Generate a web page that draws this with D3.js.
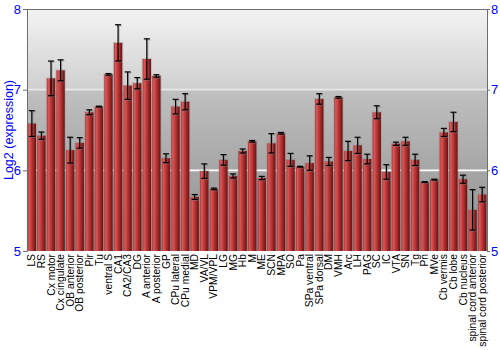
<!DOCTYPE html>
<html>
<head>
<meta charset="utf-8">
<script src="https://cdn.jsdelivr.net/npm/d3@7"></script>
<style>
  html, body { margin: 0; padding: 0; background: #fff; }
  svg { display: block; }
</style>
</head>
<body>
<svg id="chart"></svg>
<script>
const regions = ['LS', 'RS', 'Cx motor', 'Cx cingulate', 'OB anterior', 'OB posterior', 'Pir', 'Tu',
  'ventral S', 'CA1', 'CA2/CA3', 'DG', 'A anterior', 'A posterior', 'GP', 'CPu lateral', 'CPu medial',
  'MD', 'VA/VL', 'VPM/VPL', 'LG', 'MG', 'Hb', 'M', 'ME', 'SCN', 'MPA', 'SO', 'Pa', 'SPa ventral',
  'SPa dorsal', 'DM', 'VMH', 'Arc', 'LH', 'PAG', 'SC', 'IC', 'VTA', 'SN', 'Tg', 'Pn', 'MVe',
  'Cb vermis', 'Cb lobe', 'Cb nucleus', 'spinal cord anterior', 'spinal cord posterior'];

const expression = [6.58, 6.43, 7.14, 7.24, 6.25, 6.34, 6.72, 6.79,
  7.19, 7.58, 7.05, 7.08, 7.38, 7.17, 6.15, 6.79, 6.85,
  5.67, 5.99, 5.77, 6.13, 5.93, 6.24, 6.36, 5.905, 6.335, 6.46, 6.13, 6.045, 6.09,
  6.885, 6.11, 6.905, 6.24, 6.31, 6.14, 6.72, 5.98, 6.33, 6.36, 6.13, 5.855, 5.885,
  6.47, 6.6, 5.89, 5.51, 5.7];

const errors = [0.16, 0.045, 0.215, 0.13, 0.16, 0.065, 0.03, 0.005,
  0.01, 0.225, 0.17, 0.07, 0.25, 0.015, 0.055, 0.09, 0.1,
  0.03, 0.09, 0.01, 0.065, 0.025, 0.025, 0.01, 0.02, 0.12, 0.01, 0.08, 0.005, 0.09,
  0.065, 0.05, 0.01, 0.12, 0.1, 0.06, 0.08, 0.09, 0.02, 0.05, 0.07, 0.005, 0.005,
  0.05, 0.12, 0.05, 0.25, 0.09];

const yTicks = [5, 6, 7, 8];

const width = 500;
const height = 350;
const plotLeft = 27;
const plotRight = 487;
const plotTop = 9;
const plotBottom = 251;

const data = regions.map((name, i) => ({ name, value: expression[i], err: errors[i] }));

const svg = d3.select('#chart').attr('width', width).attr('height', height);

const x = d3.scaleBand().domain(regions).range([plotLeft, plotRight]).paddingInner(0.13).paddingOuter(0.07);
const y = d3.scaleLinear().domain([5, 8]).range([plotBottom, plotTop]);

const defs = svg.append('defs');

defs.append('linearGradient')
  .attr('id', 'bg-grad')
  .attr('x1', '0%').attr('y1', '0%').attr('x2', '0%').attr('y2', '100%')
  .selectAll('stop')
  .data([
    { offset: '0%', color: '#f3f3f3' },
    { offset: '33.3%', color: '#cfcfcf' },
    { offset: '33.4%', color: '#c0c0c0' },
    { offset: '100%', color: '#8c8c8c' },
  ])
  .join('stop')
  .attr('offset', (d) => d.offset)
  .attr('stop-color', (d) => d.color);

defs.append('linearGradient')
  .attr('id', 'bar-grad')
  .attr('x1', '0%').attr('y1', '0%').attr('x2', '100%').attr('y2', '0%')
  .selectAll('stop')
  .data([
    { offset: '0%', color: '#b03030' },
    { offset: '18%', color: '#d65a5a' },
    { offset: '45%', color: '#c03a3a' },
    { offset: '100%', color: '#6c1010' },
  ])
  .join('stop')
  .attr('offset', (d) => d.offset)
  .attr('stop-color', (d) => d.color);

// plot background
svg.append('rect')
  .attr('x', plotLeft).attr('y', plotTop)
  .attr('width', plotRight - plotLeft).attr('height', plotBottom - plotTop)
  .attr('fill', 'url(#bg-grad)');

// grid lines
svg.append('g')
  .selectAll('line')
  .data([6, 7])
  .join('line')
  .attr('x1', plotLeft).attr('x2', plotRight)
  .attr('y1', (d) => y(d)).attr('y2', (d) => y(d))
  .attr('stroke', (d) => (d === 7 ? '#e8e8e8' : '#ffffff'))
  .attr('stroke-width', 1.6);

// bar halos
const bw = x.bandwidth();
svg.append('g')
  .selectAll('rect')
  .data(data)
  .join('rect')
  .attr('x', (d) => x(d.name) - 1)
  .attr('y', (d) => y(d.value) - 1)
  .attr('width', bw + 2)
  .attr('height', (d) => plotBottom - y(d.value) + 1)
  .attr('fill', '#8a8a8a')
  .attr('opacity', 0.35);

// bars
svg.append('g')
  .selectAll('rect')
  .data(data)
  .join('rect')
  .attr('x', (d) => x(d.name))
  .attr('y', (d) => y(d.value))
  .attr('width', bw)
  .attr('height', (d) => plotBottom - y(d.value))
  .attr('fill', 'url(#bar-grad)');

// error bars: grey shadow then black
const drawErrors = (g, dx, color, op) => {
  const eg = g.append('g').attr('stroke', color).attr('opacity', op).attr('stroke-width', 1.2);
  const cx = (d) => x(d.name) + bw / 2 + dx;
  eg.selectAll('line.v').data(data).join('line').attr('class', 'v')
    .attr('x1', cx).attr('x2', cx)
    .attr('y1', (d) => y(d.value + d.err) + dx).attr('y2', (d) => y(d.value - d.err) + dx);
  eg.selectAll('line.t').data(data).join('line').attr('class', 't')
    .attr('x1', (d) => cx(d) - 3).attr('x2', (d) => cx(d) + 3)
    .attr('y1', (d) => y(d.value + d.err) + dx).attr('y2', (d) => y(d.value + d.err) + dx);
  eg.selectAll('line.b').data(data).join('line').attr('class', 'b')
    .attr('x1', (d) => cx(d) - 3).attr('x2', (d) => cx(d) + 3)
    .attr('y1', (d) => y(d.value - d.err) + dx).attr('y2', (d) => y(d.value - d.err) + dx);
};
drawErrors(svg, 1, '#777', 0.45);
drawErrors(svg, 0, '#000', 1);

// frame line on top
svg.append('line')
  .attr('x1', plotLeft).attr('x2', plotRight).attr('y1', plotTop + 0.5).attr('y2', plotTop + 0.5)
  .attr('stroke', '#6e6e6e');

// left axis
const yLeft = svg.append('g')
  .attr('transform', `translate(${plotLeft},0)`)
  .call(d3.axisLeft(y).tickValues(yTicks).tickFormat(d3.format('d')).tickSize(4).tickPadding(2));
yLeft.select('.domain').attr('stroke', '#6e6e6e');
yLeft.selectAll('.tick line').attr('stroke', '#6e6e6e');
yLeft.selectAll('text')
  .attr('fill', '#0000ff')
  .attr('font-family', 'Liberation Sans, Arial, sans-serif')
  .attr('font-size', '13px');

// right axis
const yRight = svg.append('g')
  .attr('transform', `translate(${plotRight},0)`)
  .call(d3.axisRight(y).tickValues(yTicks).tickFormat(d3.format('d')).tickSize(3).tickPadding(1));
yRight.select('.domain').attr('stroke', '#6e6e6e');
yRight.selectAll('.tick line').attr('stroke', '#6e6e6e');
yRight.selectAll('text')
  .attr('fill', '#0000ff')
  .attr('font-family', 'Liberation Sans, Arial, sans-serif')
  .attr('font-size', '13px');

// y title
svg.append('text')
  .attr('transform', `translate(13,${(plotTop + plotBottom) / 2}) rotate(-90)`)
  .attr('text-anchor', 'middle')
  .attr('fill', '#0000ff')
  .attr('font-family', 'Liberation Sans, Arial, sans-serif')
  .attr('font-size', '12.5px')
  .text('Log2 (expression)');

// category labels
svg.append('g')
  .selectAll('text')
  .data(regions)
  .join('text')
  .attr('transform', (d) => `translate(${x(d) + bw / 2},${plotBottom + 3}) rotate(-90)`)
  .attr('dy', '0.35em')
  .attr('text-anchor', 'end')
  .attr('fill', '#000')
  .attr('font-family', 'Liberation Sans, Arial, sans-serif')
  .attr('font-size', '10.3px')
  .text((d) => d);
</script>
</body>
</html>
